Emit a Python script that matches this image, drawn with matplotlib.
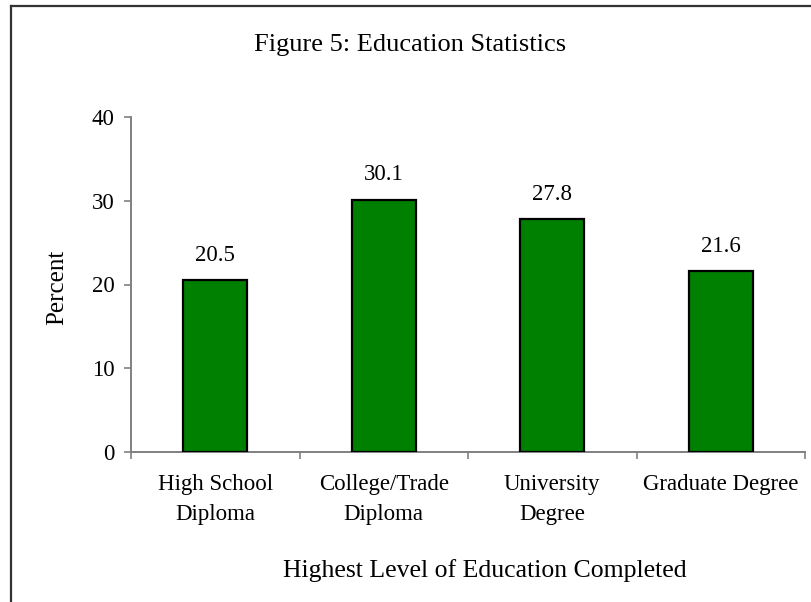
import matplotlib
matplotlib.use("Agg")
import matplotlib.pyplot as plt
from matplotlib.lines import Line2D
import numpy as np

categories = ["High School\nDiploma", "College/Trade\nDiploma", "University\nDegree", "Graduate Degree"]
percent = [20.5, 30.1, 27.8, 21.6]
value_labels = ["20.5", "30.1", "27.8", "21.6"]
y_ticks = [0, 10, 20, 30, 40]

plt.rcParams["font.family"] = ["Liberation Serif", "DejaVu Serif"]

W, H = 811, 602
fig = plt.figure(figsize=(W / 100, H / 100), dpi=100)

left, right, bottom, top = 131, 805, 452, 117
ax = fig.add_axes([left / W, 1 - bottom / H, (right - left) / W, (bottom - top) / H])

x = np.arange(len(categories))
bars = ax.bar(x, percent, width=0.38, color="#008000", edgecolor="black", linewidth=1.6, zorder=3)

for xi, v, lab in zip(x, percent, value_labels):
    ax.annotate(lab, (xi, v), xytext=(0, 14), textcoords="offset points",
                ha="center", va="baseline", fontsize=16.5, color="black")

ax.set_xlim(-0.5, len(categories) - 0.5)
ax.set_ylim(0, 40)
ax.set_yticks(y_ticks)
ax.set_yticklabels([str(t) for t in y_ticks], fontsize=16.5)

ax.set_xticks(x)
ax.set_xticklabels(categories, fontsize=16.5, linespacing=1.55, va="top")
ax.set_xticks(np.arange(-0.5, len(categories), 1.0), minor=True)
ax.tick_params(axis="x", which="major", length=0, pad=16)
ax.tick_params(axis="x", which="minor", length=5, width=1.2, color="#808080", direction="out")
ax.tick_params(axis="y", length=5, width=1.2, color="#808080", direction="out", pad=7)

for s in ["top", "right"]:
    ax.spines[s].set_visible(False)
for s in ["left", "bottom"]:
    ax.spines[s].set_color("#808080")
    ax.spines[s].set_linewidth(1.4)

fig.text(410 / W, 1 - 45 / H, "Figure 5: Education Statistics", ha="center", va="center", fontsize=19)
fig.text(485 / W, 1 - 577 / H, "Highest Level of Education Completed", ha="center", va="baseline", fontsize=18.5)
fig.text(57 / W, 1 - 287 / H, "Percent", ha="center", va="center", rotation=90, fontsize=18)

# outer chart frame (left and top edges)
fig.add_artist(Line2D([10.5 / W, 10.5 / W], [0, 1 - 5.5 / H], transform=fig.transFigure, color="#333333", linewidth=1.6))
fig.add_artist(Line2D([10.5 / W, 1], [1 - 5.5 / H, 1 - 5.5 / H], transform=fig.transFigure, color="#333333", linewidth=1.6))

fig.savefig("out.png", dpi=100)
